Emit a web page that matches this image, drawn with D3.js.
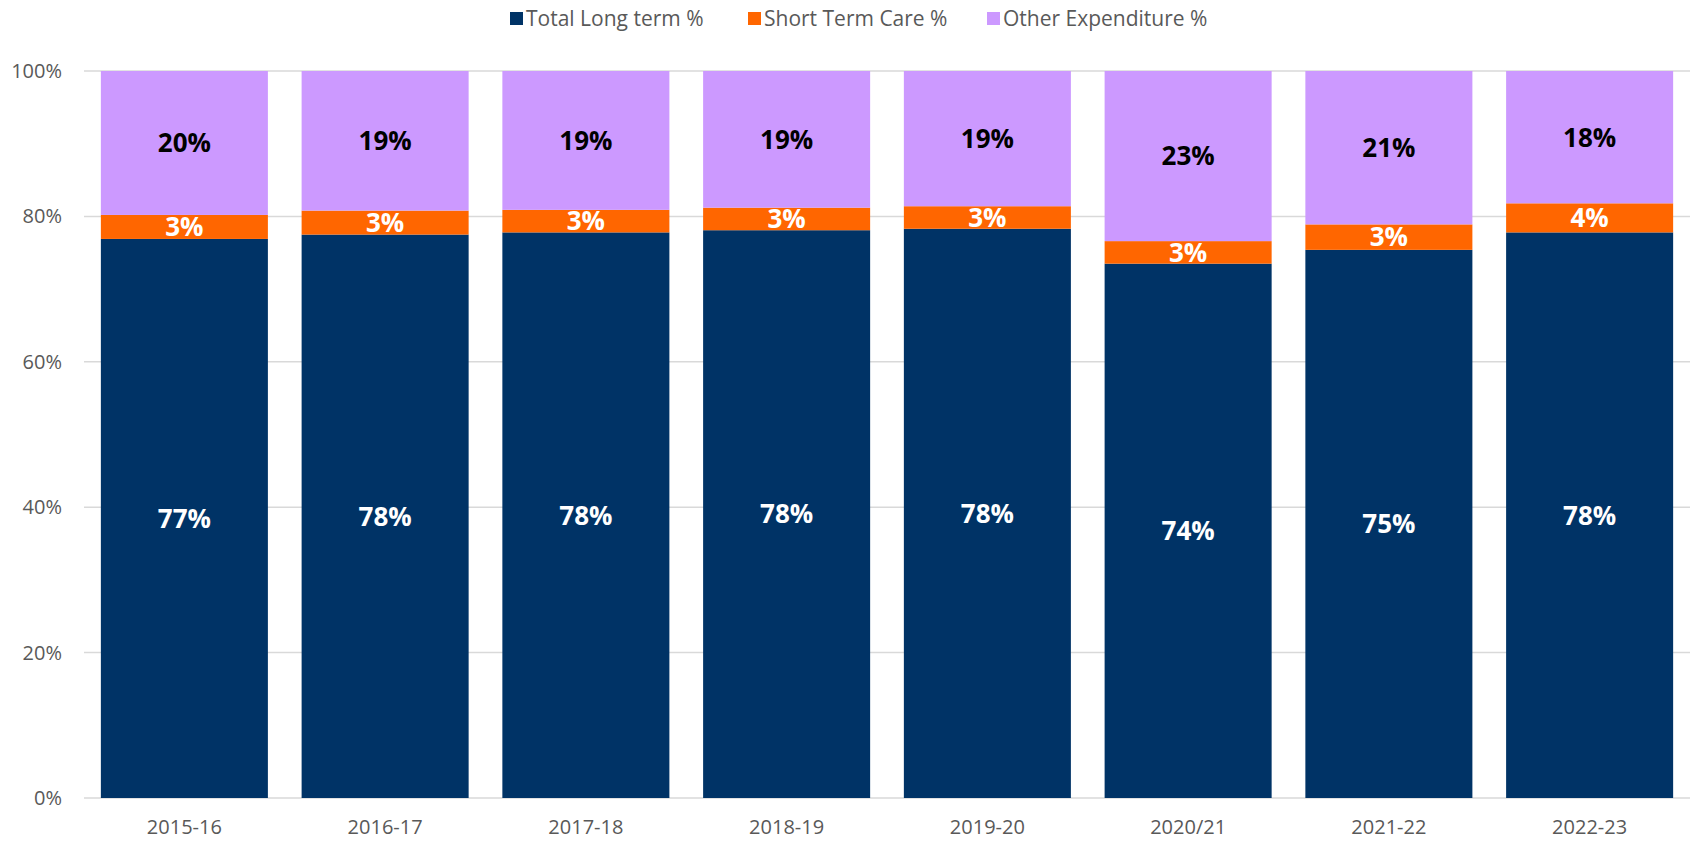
<!DOCTYPE html>
<html>
<head>
<meta charset="utf-8">
<script src="https://cdn.jsdelivr.net/npm/d3@7"></script>
<style>
	body { margin: 0; background: #fff; }
	text { font-family: 'Open Sans', sans-serif; }
</style>
</head>
<body>
<script>
// Data
const years = ['2015-16', '2016-17', '2017-18', '2018-19', '2019-20', '2020/21', '2021-22', '2022-23']
const longTerm = [76.9, 77.5, 77.8, 78.1, 78.3, 73.5, 75.4, 77.8]
const shortTerm = [3.3, 3.3, 3.1, 3.1, 3.1, 3.1, 3.5, 4.0]
const otherExp = [19.8, 19.2, 19.1, 18.8, 18.6, 23.4, 21.1, 18.2]
const labelsLong = ['77%', '78%', '78%', '78%', '78%', '74%', '75%', '78%']
const labelsShort = ['3%', '3%', '3%', '3%', '3%', '3%', '3%', '4%']
const labelsOther = ['20%', '19%', '19%', '19%', '19%', '23%', '21%', '18%']
const seriesNames = ['Total Long term %', 'Short Term Care %', 'Other Expenditure %']
const yTicks = [0, 20, 40, 60, 80, 100]

const colors = ['#003366', '#FF6600', '#CC99FF']
const labelColors = ['#fff', '#fff', '#000']

const W = 1694
const H = 842
const margin = { top: 71, bottom: 44, left: 84, right: 4 }
const width = W - margin.left - margin.right
const height = H - margin.top - margin.bottom

const svg = d3.select('body').append('svg').attr('width', W).attr('height', H)
const g = svg.append('g').attr('transform', `translate(${margin.left},${margin.top})`)

const xscale = d3.scaleBand().domain(years).range([0, width]).paddingInner(0.168).paddingOuter(0.084)
const yscale = d3.scaleLinear().domain([0, 100]).range([height, 0])

// build table for stacking
const table = years.map((y, i) => ({ year: y, long: longTerm[i], short: shortTerm[i], other: otherExp[i], i: i }))
const stack = d3.stack().keys(['long', 'short', 'other'])(table)
const labelSets = [labelsLong, labelsShort, labelsOther]

// gridlines
g.selectAll('line.grid')
	.data(yTicks)
	.join('line')
	.attr('class', 'grid')
	.attr('x1', 0)
	.attr('x2', width)
	.attr('y1', d => yscale(d))
	.attr('y2', d => yscale(d))
	.attr('stroke', '#D9D9D9')
	.attr('stroke-width', 1.5)

// y axis
const yaxis = d3.axisLeft(yscale).tickValues(yTicks).tickFormat(d => d + '%').tickSize(0).tickPadding(22)
const g_yaxis = g.append('g').call(yaxis)
g_yaxis.select('.domain').remove()
g_yaxis.selectAll('text').attr('fill', '#595959').style('font-size', '20px')

// x axis
const xaxis = d3.axisBottom(xscale).tickSize(0).tickPadding(22)
const g_xaxis = g.append('g').attr('transform', `translate(0,${height})`).call(xaxis)
g_xaxis.select('.domain').remove()
g_xaxis.selectAll('text').attr('fill', '#595959').style('font-size', '20px')

// bars
stack.forEach((layer, k) => {
	const lg = g.append('g')
	lg.selectAll('rect')
		.data(layer)
		.join('rect')
		.attr('x', d => xscale(d.data.year))
		.attr('width', xscale.bandwidth())
		.attr('y', d => yscale(d[1]))
		.attr('height', d => yscale(d[0]) - yscale(d[1]))
		.attr('fill', colors[k])

	lg.selectAll('text')
		.data(layer)
		.join('text')
		.attr('x', d => xscale(d.data.year) + xscale.bandwidth() / 2)
		.attr('y', d => (yscale(d[0]) + yscale(d[1])) / 2)
		.attr('text-anchor', 'middle')
		.attr('dy', '0.36em')
		.attr('fill', labelColors[k])
		.style('font-size', '26px')
		.style('font-weight', 'bold')
		.text(d => labelSets[k][d.data.i])
})

// legend
const legendX = [510, 748, 987]
const legend = svg.append('g')
seriesNames.forEach((name, k) => {
	legend.append('rect')
		.attr('x', legendX[k])
		.attr('y', 12)
		.attr('width', 13)
		.attr('height', 13)
		.attr('fill', colors[k])
	legend.append('text')
		.attr('x', legendX[k] + 16)
		.attr('y', 19)
		.attr('dy', '0.35em')
		.attr('fill', '#595959')
		.style('font-size', '21px')
		.text(name)
})
</script>
</body>
</html>
